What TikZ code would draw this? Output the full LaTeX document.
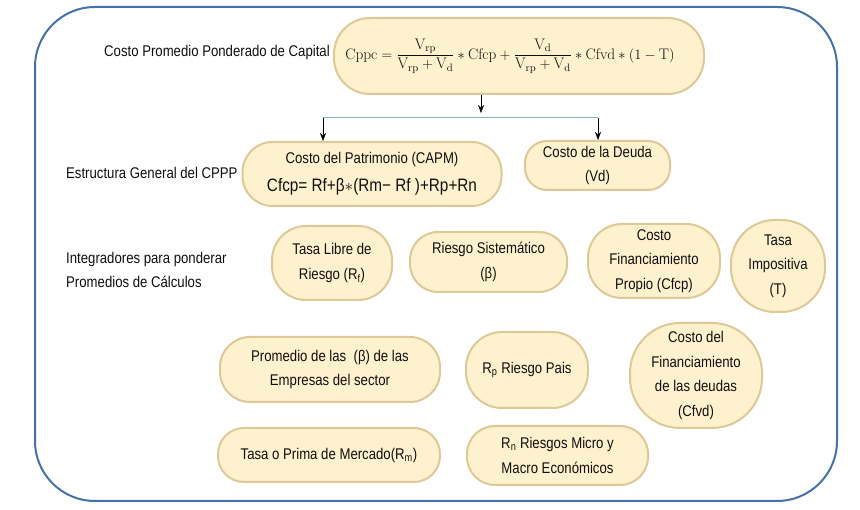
\documentclass[tikz,border=0pt]{standalone}
\usepackage{fontspec}
\usepackage{amsmath}
\newfontfamily\narrowsans[FakeStretch=0.85]{Liberation Sans}
\usepackage{tikz}
\usetikzlibrary{arrows.meta, positioning, calc}
\definecolor{frameblue}{RGB}{68,114,168}
\definecolor{linkblue}{RGB}{141,176,216}
\definecolor{cream}{RGB}{254,241,205}
\definecolor{rimtan}{RGB}{222,200,152}
\definecolor{inkgray}{RGB}{15,15,15}

\begin{document}
\begin{tikzpicture}[x=1pt, y=-1pt, >={Stealth[length=8pt,width=6pt]},
  every node/.style={font=\narrowsans\fontsize{15.5}{24.5}\selectfont, text=inkgray, align=center, inner sep=0pt},
  box/.style={draw=rimtan, line width=2pt, fill=cream, rounded corners=#1},
  box/.default=25pt,
  sidetext/.style={anchor=west, align=left}]
  \useasboundingbox (0,0) rectangle (860,510);
  \draw[frameblue, line width=2pt, rounded corners=60pt] (35,7) rectangle (837,501);

  \node[sidetext] (titulo) at (104,52) {Costo Promedio Ponderado de Capital};
  \node[sidetext] (estructura) at (66,173) {Estructura General del CPPP};
  \node[sidetext] (integra) at (66,270) {Integradores para ponderar\\Promedios de Cálculos};

  \node[box=36pt, minimum width=370pt, minimum height=76pt] (cppc) at (519,56)
    {\hspace*{-18pt}\fontsize{15.3}{18}\selectfont $\mathrm{Cppc}=\dfrac{\mathrm{V_{rp}}}{\mathrm{V_{rp}}+\mathrm{V_d}}\ast\mathrm{Cfcp}+\dfrac{\mathrm{V_d}}{\mathrm{V_{rp}}+\mathrm{V_d}}\ast\mathrm{Cfvd}\ast(1-\mathrm{T})$};

  \node[box=30pt, minimum width=259pt, minimum height=64pt] (capm) at (372,174)
    {Costo del Patrimonio (CAPM)\\[3pt]{\fontsize{18}{20}\selectfont Cfcp= Rf+β$\ast$(Rm− Rf )+Rp+Rn}};
  \node[box=22pt, minimum width=145pt, minimum height=49pt] (deuda) at (597.5,165.5)
    {Costo de la Deuda\\(Vd)};

  \node[box=34pt, minimum width=120pt, minimum height=74pt] (libre) at (332,263)
    {Tasa Libre de\\Riesgo (R\textsubscript{f})};
  \node[box=28pt, minimum width=157pt, minimum height=60pt] (beta) at (488.5,262)
    {Riesgo Sistemático\\(β)};
  \node[box=34pt, minimum width=132pt, minimum height=74pt] (cfcp) at (654,261)
    {Costo\\Financiamiento\\Propio (Cfcp)};
  \node[box=44pt, minimum width=94pt, minimum height=92pt] (impuesto) at (778,266)
    {Tasa\\Impositiva\\(T)};

  \node[box=30pt, minimum width=220pt, minimum height=65pt] (promedio) at (330,369.5)
    {Promedio de las~ (β) de las\\Empresas del sector};
  \node[box=36pt, minimum width=122pt, minimum height=76pt] (pais) at (527,370)
    {R\textsubscript{p} Riesgo Pais};
  \node[box=50pt, minimum width=132pt, minimum height=105pt] (cfvd) at (696,375.5)
    {Costo del\\Financiamiento\\de las deudas\\(Cfvd)};

  \node[box=26pt, minimum width=222pt, minimum height=54pt] (mercado) at (329,455)
    {Tasa o Prima de Mercado(R\textsubscript{m})};
  \node[box=28pt, minimum width=181pt, minimum height=59pt] (micro) at (557.5,455.5)
    {R\textsubscript{n} Riesgos Micro y\\Macro Económicos};

  \coordinate (split) at (481,118);
  \coordinate (hl) at (323,118);
  \coordinate (hr) at (598,118);
  \draw[->, shorten >=5pt] (cppc.south -| split) -- (split);
  \draw[linkblue, line width=1pt] (hl) -- (hr);
  \draw[->] (hl) -- (hl |- capm.north);
  \draw[->] (hr) -- (hr |- deuda.north);
\end{tikzpicture}
\end{document}
